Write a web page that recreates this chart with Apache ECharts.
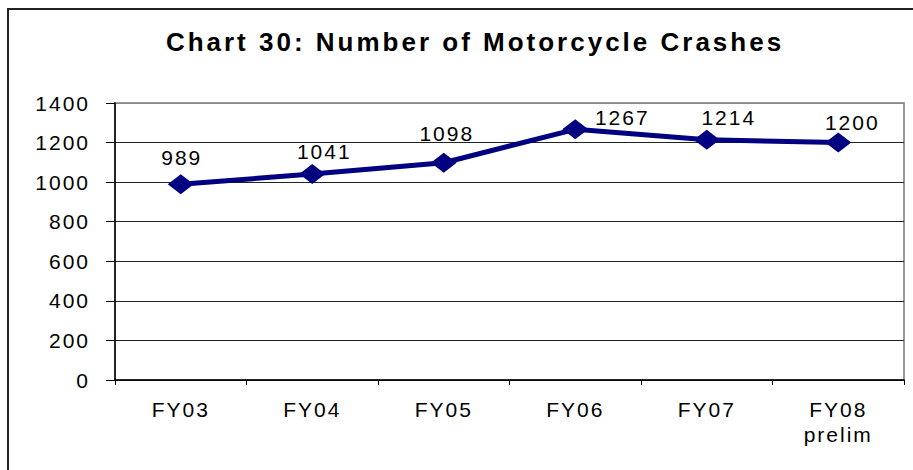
<!DOCTYPE html>
<html><head><meta charset="utf-8">
<script src="https://cdn.jsdelivr.net/npm/echarts@6/dist/echarts.min.js"></script>
<style>
html,body{margin:0;padding:0;background:#fff;}
#chart{width:913px;height:470px;}
#chart text{letter-spacing:2px;}
#chart text[style*="bold"]{letter-spacing:3px;}
</style></head><body><div id="chart"></div>
<script>
const titleText = 'Chart 30: Number of Motorcycle Crashes';
const categories = ['FY03', 'FY04', 'FY05', 'FY06', 'FY07', 'FY08\nprelim'];
const crashes = [989, 1041, 1098, 1267, 1214, 1200];
const yMin = 0, yMax = 1400, yStep = 200;
// label placement (pixel offsets of each value label from its marker)
const labelOffsets = [[1, -27], [12, -23], [3, -29], [47, -12], [22, -22], [14, -20]];

const FONT = 'Liberation Sans, Arial, sans-serif';
const chart = echarts.init(document.getElementById('chart'), null, {renderer: 'svg'});
chart.setOption({
  animation: false,
  backgroundColor: '#fff',
  graphic: [
    {type: 'rect', shape: {x: 8, y: 9, width: 1000, height: 1000},
     style: {fill: 'none', stroke: '#222', lineWidth: 2}, silent: true},
    {type: 'text', x: 475, y: 42,
     style: {text: titleText, fill: '#000', font: 'bold 26px ' + FONT,
             textAlign: 'center', textVerticalAlign: 'middle'}}
  ],
  grid: {left: 115, right: 9, top: 103, bottom: 90, show: true,
         borderColor: '#999', borderWidth: 2, backgroundColor: 'transparent'},
  xAxis: {
    type: 'category', data: categories, boundaryGap: true,
    axisLine: {lineStyle: {color: '#000', width: 1.5}},
    axisTick: {show: true, length: 5, lineStyle: {color: '#000', width: 1}},
    axisLabel: {color: '#000', fontSize: 21, fontFamily: FONT, margin: 17, lineHeight: 25}
  },
  yAxis: {
    type: 'value', min: yMin, max: yMax, interval: yStep,
    axisLine: {show: true, lineStyle: {color: '#000', width: 1.5}},
    axisTick: {show: true, length: 9, lineStyle: {color: '#000', width: 1}},
    axisLabel: {color: '#000', fontSize: 21, fontFamily: FONT, margin: 25,
                formatter: v => String(v)},
    splitLine: {show: true, lineStyle: {color: ['#222', '#222', '#222', '#222', '#222', '#222', '#222', '#888'], width: 1}}
  },
  series: [{
    type: 'line',
    data: crashes.map((v, i) => ({value: v, label: {offset: labelOffsets[i]}})),
    color: '#000080',
    lineStyle: {color: '#000080', width: 5},
    itemStyle: {color: '#000080'},
    symbol: 'diamond', symbolSize: [26, 20],
    label: {show: true, position: 'inside', color: '#000', fontSize: 21, fontFamily: FONT}
  }]
});
</script></body></html>
